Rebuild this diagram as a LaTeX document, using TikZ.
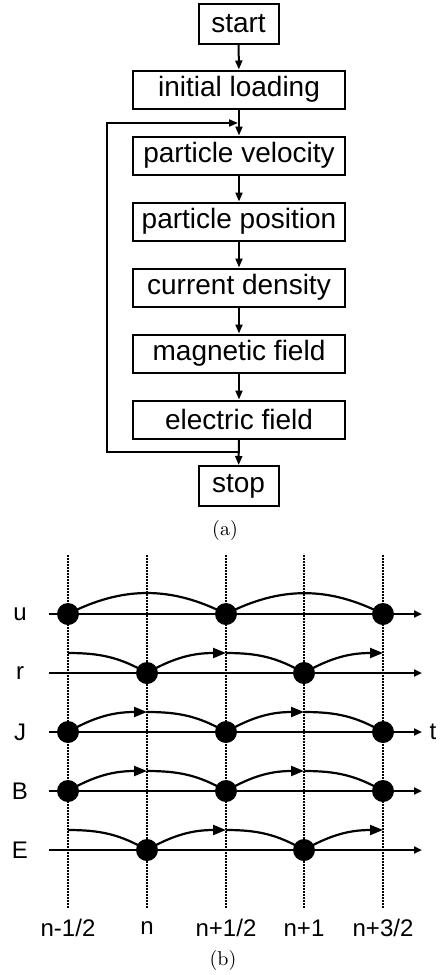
\documentclass[tikz,border=0pt]{standalone}
\usepackage{fontspec}
\usepackage{tikz}
\usetikzlibrary{arrows.meta,positioning,calc}
\newfontfamily\helv{Liberation Sans}

\begin{document}
\begin{tikzpicture}[
    x=0.5pt,y=-0.5pt,
    >={Triangle[length=4.5pt,width=3.5pt]},
    every node/.style={font=\helv\fontsize{14}{16}\selectfont},
    stepbox/.style={rectangle,draw,line width=1pt,minimum width=106pt,
                    minimum height=19pt,inner sep=0pt},
    endbox/.style={stepbox,minimum width=40pt,minimum height=20pt},
    flow/.style={->,line width=1pt},
    axis/.style={-{Triangle[length=4pt,width=3.5pt]},line width=1pt},
    grid/.style={line width=1pt,dash pattern=on 0.9pt off 0.6pt},
    wave/.style={line width=1.1pt},
    tip/.style={wave,-{Triangle[length=6.5pt,width=5pt]}},
    dot/.style={circle,fill,minimum size=11pt,inner sep=0pt},
    rowlabel/.style={font=\helv\fontsize{12}{14}\selectfont,inner sep=0pt},
    caption/.style={font=\fontsize{10}{12}\selectfont,inner sep=0pt}
  ]
  \useasboundingbox (0,0) rectangle (444,975);
  %% (a) flow chart
  \node[endbox]  (start) at (238.5,23.5) {start};
  \node[stepbox] (init)  at (239,89.5)   {initial loading};
  \node[stepbox] (pvel)  at (239,155.5)  {particle velocity};
  \node[stepbox] (ppos)  at (239,221.5)  {particle position};
  \node[stepbox] (curr)  at (239,287.5)  {current density};
  \node[stepbox] (bfld)  at (239,353.5)  {magnetic field};
  \node[stepbox] (efld)  at (239,419.5)  {electric field};
  \node[endbox]  (stop)  at (238.5,486)  {stop};
  \draw[flow] (start) -- (init);
  \draw[flow] (init) -- (pvel);
  \draw[flow] (pvel) -- (ppos);
  \draw[flow] (ppos) -- (curr);
  \draw[flow] (curr) -- (bfld);
  \draw[flow] (bfld) -- (efld);
  \draw[flow] (efld) -- (stop);
  %% loop back
  \coordinate (loopout) at (239,452);
  \coordinate (loopcorner) at (107,452);
  \coordinate (loopin) at (238,123);
  \draw[flow] (loopout) -- (loopcorner) |- (loopin);
  \node[caption] (capa) at (225,530) {(a)};

  %% (b) time levels
  \foreach \i/\x/\lab in {0/68/{n-1/2},1/147/n,2/226/{n+1/2},3/304/{n+1},4/383/{n+3/2}}{
    \coordinate (col\i-top) at (\x,555);
    \coordinate (col\i-bot) at (\x,908);
    \draw[grid] (col\i-top) -- (col\i-bot);
    \node[rowlabel] (col\i-lbl) at (\x,928) {\lab};
  }
  \foreach \r/\y in {u/614,r/673,J/732,B/791,E/850}{
    \node[rowlabel] (\r-lbl) at (20,\y) {\r};
    \coordinate (\r-start) at (49,\y);
    \coordinate (\r-end) at (422,\y);
    \draw[axis] (\r-start) -- (\r-end);
    \foreach \i/\x in {0/68,1/147,2/226,3/304,4/383}{
      \coordinate (\r-\i) at (\x,\y);
      \coordinate (\r-p\i) at (\x,\y-20);
    }
  }
  \node[rowlabel] (t-lbl) at (433,732) {t};
  %% u
  \draw[wave] (u-0) to[bend left=27] (u-2);
  \draw[wave] (u-2) to[bend left=27] (u-4);
  %% J and B
  \foreach \r in {J,B}{
    \draw[tip]  (\r-0) to[out=30,in=180] (\r-p1);
    \draw[wave] (\r-p1) to[out=0,in=150] (\r-2);
    \draw[tip]  (\r-2) to[out=30,in=180] (\r-p3);
    \draw[wave] (\r-p3) to[out=0,in=150] (\r-4);
  }
  %% r and E
  \foreach \r in {r,E}{
    \draw[wave] (\r-p0) to[out=0,in=150] (\r-1);
    \draw[tip]  (\r-1) to[out=30,in=180] (\r-p2);
    \draw[wave] (\r-p2) to[out=0,in=150] (\r-3);
    \draw[tip]  (\r-3) to[out=30,in=180] (\r-p4);
  }
  %% dots
  \foreach \r/\i in {u/0,u/2,u/4,J/0,J/2,J/4,B/0,B/2,B/4,r/1,r/3,E/1,E/3}
    \node[dot] (\r-dot\i) at (\r-\i) {};
  \node[caption] (capb) at (223,960) {(b)};
\end{tikzpicture}
\end{document}
